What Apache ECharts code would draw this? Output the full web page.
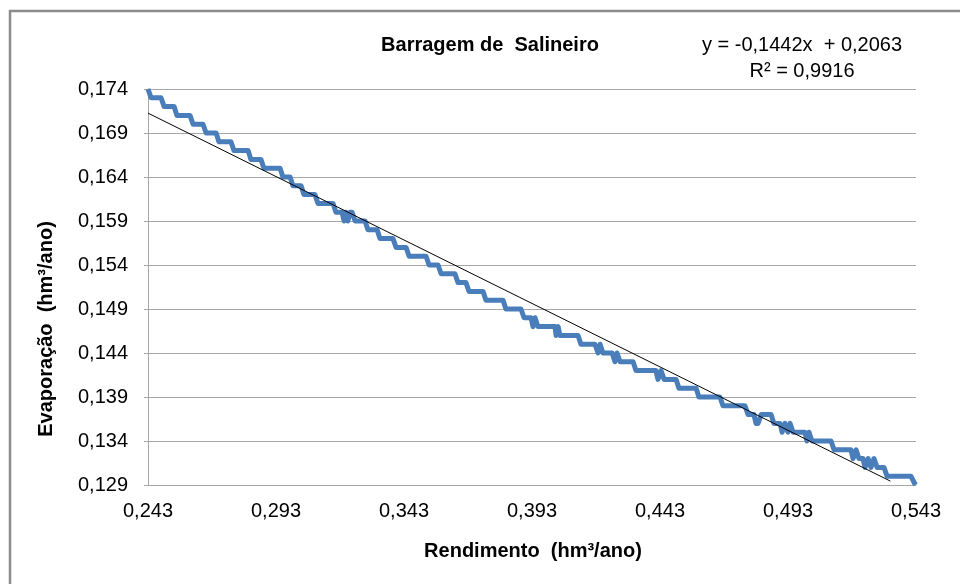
<!DOCTYPE html>
<html>
<head>
<meta charset="utf-8">
<script src="https://cdn.jsdelivr.net/npm/echarts@6/dist/echarts.min.js"></script>
<style>
  html, body { margin: 0; padding: 0; background: #fff; }
  #chart { width: 960px; height: 584px; }
</style>
</head>
<body>
<div id="chart"></div>
<script>
// Rendimento (hm³/ano) - x
const rendimento = [
  0.2430, 0.2434, 0.2442, 0.2481, 0.2493, 0.2532, 0.2543, 0.2594, 0.2606, 0.2645,
  0.2657, 0.2696, 0.2707, 0.2754, 0.2766, 0.2821, 0.2832, 0.2871, 0.2883, 0.2946,
  0.2957, 0.2985, 0.2996, 0.3028, 0.3039, 0.3082, 0.3094, 0.3153, 0.3164, 0.3188,
  0.3196, 0.3203, 0.3211, 0.3219, 0.3227, 0.3239, 0.3278, 0.3289, 0.3325, 0.3336,
  0.3387, 0.3399, 0.3438, 0.3450, 0.3516, 0.3528, 0.3563, 0.3575, 0.3629, 0.3641,
  0.3672, 0.3684, 0.3739, 0.3750, 0.3817, 0.3828, 0.3887, 0.3899, 0.3926, 0.3934,
  0.3942, 0.3953, 0.4020, 0.4024, 0.4032, 0.4039, 0.4110, 0.4121, 0.4176, 0.4188,
  0.4196, 0.4207, 0.4243, 0.4254, 0.4262, 0.4274, 0.4325, 0.4336, 0.4414, 0.4422,
  0.4434, 0.4446, 0.4493, 0.4504, 0.4571, 0.4582, 0.4664, 0.4676, 0.4762, 0.4774,
  0.4797, 0.4805, 0.4813, 0.4825, 0.4864, 0.4875, 0.4899, 0.4907, 0.4918, 0.4930,
  0.4938, 0.4950, 0.4996, 0.5004, 0.5012, 0.5024, 0.5098, 0.5110, 0.5176, 0.5184,
  0.5196, 0.5207, 0.5223, 0.5231, 0.5243, 0.5254, 0.5266, 0.5278, 0.5305, 0.5317,
  0.5410, 0.5428
];
// Evaporação (hm³/ano) - y
const evaporacao = [
  0.174, 0.174, 0.173, 0.173, 0.172, 0.172, 0.171, 0.171, 0.170, 0.170,
  0.169, 0.169, 0.168, 0.168, 0.167, 0.167, 0.166, 0.166, 0.165, 0.165,
  0.164, 0.164, 0.163, 0.163, 0.162, 0.162, 0.161, 0.161, 0.160, 0.160,
  0.159, 0.160, 0.159, 0.160, 0.160, 0.159, 0.159, 0.158, 0.158, 0.157,
  0.157, 0.156, 0.156, 0.155, 0.155, 0.154, 0.154, 0.153, 0.153, 0.152,
  0.152, 0.151, 0.151, 0.150, 0.150, 0.149, 0.149, 0.148, 0.148, 0.147,
  0.148, 0.147, 0.147, 0.146, 0.147, 0.146, 0.146, 0.145, 0.145, 0.144,
  0.145, 0.144, 0.144, 0.143, 0.144, 0.143, 0.143, 0.142, 0.142, 0.141,
  0.142, 0.141, 0.141, 0.140, 0.140, 0.139, 0.139, 0.138, 0.138, 0.137,
  0.137, 0.136, 0.136, 0.137, 0.137, 0.136, 0.136, 0.135, 0.136, 0.135,
  0.136, 0.135, 0.135, 0.134, 0.135, 0.134, 0.134, 0.133, 0.133, 0.132,
  0.133, 0.132, 0.132, 0.131, 0.132, 0.131, 0.132, 0.131, 0.131, 0.130,
  0.130, 0.129
];

// linha de tendência linear (Excel)
const trendSlope = -0.1442;
const trendIntercept = 0.2063;
const trendRange = [0.243, 0.533];

const xTicks = { min: 0.243, max: 0.543, step: 0.05 };
const yTicks = { min: 0.129, max: 0.174, step: 0.005 };

const chart = echarts.init(document.getElementById('chart'));
const font = '"Liberation Sans", Arial, sans-serif';
const fmt = v => v.toFixed(3).replace('.', ',');

const option = {
  backgroundColor: '#fff',
  animation: false,
  grid: { left: 148, right: 44, top: 89, bottom: 99, containLabel: false },
  xAxis: {
    type: 'value',
    min: xTicks.min, max: xTicks.max, interval: xTicks.step,
    axisLine: { show: true, lineStyle: { color: '#a6a6a6', width: 1 } },
    axisTick: { show: false },
    splitLine: { show: false },
    axisLabel: { formatter: fmt, fontSize: 20, color: '#000', fontFamily: font, margin: 16 }
  },
  yAxis: {
    type: 'value',
    min: yTicks.min, max: yTicks.max, interval: yTicks.step,
    axisLine: { show: true, lineStyle: { color: '#a6a6a6', width: 1 } },
    axisTick: { show: true, length: 4, lineStyle: { color: '#a6a6a6' } },
    splitLine: { show: true, lineStyle: { color: '#a6a6a6', width: 1 } },
    axisLabel: { formatter: fmt, fontSize: 20, color: '#000', fontFamily: font, margin: 20 }
  },
  series: [
    {
      type: 'line',
      data: rendimento.map((x, i) => [x, evaporacao[i]]),
      showSymbol: false,
      lineStyle: { color: '#4a7ebb', width: 5, join: 'round' },
      z: 2
    },
    {
      type: 'line',
      data: trendRange.map(x => [x, trendSlope * x + trendIntercept]),
      showSymbol: false,
      lineStyle: { color: '#000', width: 1 },
      z: 3
    }
  ],
  graphic: [
    {
      type: 'rect', silent: true,
      shape: { x: 10, y: 11, width: 980, height: 620 },
      style: { fill: 'none', stroke: '#8c8c8c', lineWidth: 2.5 }
    },
    {
      type: 'text', x: 490, y: 45,
      style: { text: 'Barragem de  Salineiro', font: 'bold 20px ' + font, fill: '#000', align: 'center', verticalAlign: 'middle' }
    },
    {
      type: 'text', x: 802, y: 45,
      style: { text: 'y = -0,1442x  + 0,2063', font: '20px ' + font, fill: '#000', align: 'center', verticalAlign: 'middle' }
    },
    {
      type: 'text', x: 802, y: 71,
      style: { text: 'R² = 0,9916', font: '20px ' + font, fill: '#000', align: 'center', verticalAlign: 'middle' }
    },
    {
      type: 'text', x: 533, y: 551,
      style: { text: 'Rendimento  (hm³/ano)', font: 'bold 20px ' + font, fill: '#000', align: 'center', verticalAlign: 'middle' }
    },
    {
      type: 'text', x: 46, y: 329, rotation: Math.PI / 2,
      style: { text: 'Evaporação  (hm³/ano)', font: 'bold 20px ' + font, fill: '#000', align: 'center', verticalAlign: 'middle' }
    }
  ]
};

chart.setOption(option);
</script>
</body>
</html>
